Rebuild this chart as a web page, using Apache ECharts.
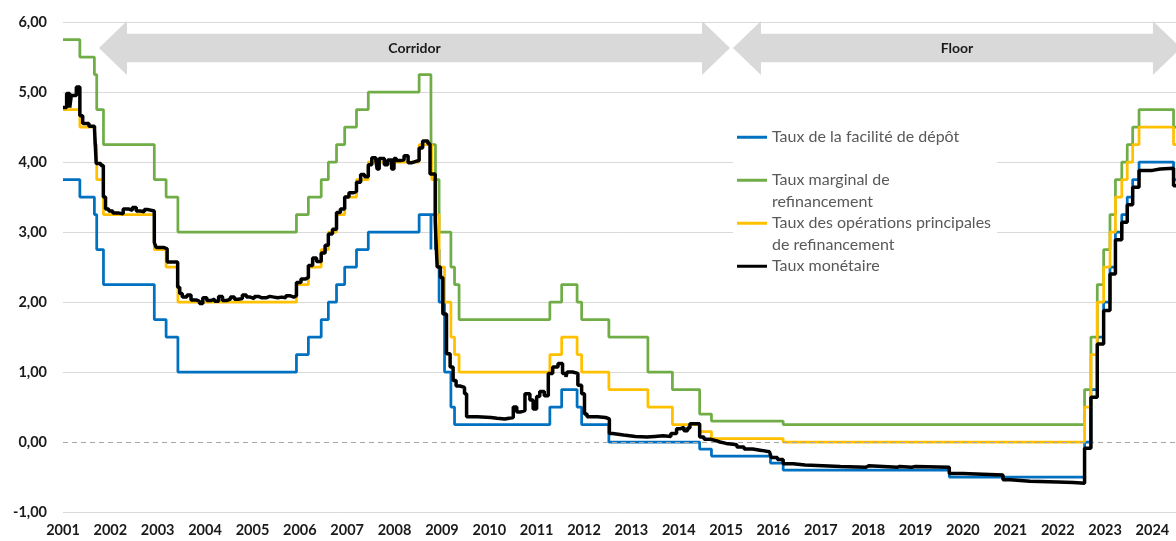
<!DOCTYPE html>
<html><head><meta charset="utf-8">
<script src="https://cdn.jsdelivr.net/npm/echarts@6/dist/echarts.min.js"></script>
<style>html,body{margin:0;padding:0;background:#fff}#c{width:1176px;height:541px}</style>
</head><body><div id="c"></div>
<script>
const seriesNames = ['Taux de la facilité de dépôt','Taux marginal de refinancement','Taux des opérations principales de refinancement','Taux monétaire'];
const legendLabels = ['\nTaux de la facilité de dépôt\n','\nTaux marginal de\nrefinancement','\nTaux des opérations principales\nde refinancement','\nTaux monétaire\n'];
const seriesColors = ['#0070C0','#70AD47','#FFC000','#000000'];

const depotDates = ['2001-01-01','2001-05-11','2001-08-31','2001-09-18','2001-11-09','2002-12-06','2003-03-07','2003-06-06','2005-12-06','2006-03-08','2006-06-15','2006-08-09','2006-10-11','2006-12-13','2007-03-14','2007-06-13','2008-07-09','2008-10-08','2008-10-09','2008-11-12','2008-12-10','2009-01-21','2009-03-11','2009-04-08','2011-04-13','2011-07-13','2011-11-09','2011-12-14','2012-07-11','2014-06-11','2014-09-10','2015-12-09','2016-03-16','2019-09-18','2022-07-27','2022-09-14','2022-11-02','2022-12-21','2023-02-08','2023-03-22','2023-05-10','2023-06-21','2023-08-02','2023-09-20','2024-06-12','2024-07-01'];
const depotValues = [3.75,3.50,3.25,2.75,2.25,1.75,1.50,1.00,1.25,1.50,1.75,2.00,2.25,2.50,2.75,3.00,3.25,2.75,3.25,2.75,2.00,1.00,0.50,0.25,0.50,0.75,0.50,0.25,0.00,-0.10,-0.20,-0.30,-0.40,-0.50,0.00,0.75,1.50,2.00,2.50,3.00,3.25,3.50,3.75,4.00,3.75,3.75];

const margDates = ['2001-01-01','2001-05-11','2001-08-31','2001-09-18','2001-11-09','2002-12-06','2003-03-07','2003-06-06','2005-12-06','2006-03-08','2006-06-15','2006-08-09','2006-10-11','2006-12-13','2007-03-14','2007-06-13','2008-07-09','2008-10-08','2008-10-09','2008-11-12','2008-12-10','2009-03-11','2009-04-08','2009-05-13','2011-04-13','2011-07-13','2011-11-09','2011-12-14','2012-07-11','2013-05-08','2013-11-13','2014-06-11','2014-09-10','2016-03-16','2022-07-27','2022-09-14','2022-11-02','2022-12-21','2023-02-08','2023-03-22','2023-05-10','2023-06-21','2023-08-02','2023-09-20','2024-06-12','2024-07-01'];
const margValues = [5.75,5.50,5.25,4.75,4.25,3.75,3.50,3.00,3.25,3.50,3.75,4.00,4.25,4.50,4.75,5.00,5.25,4.75,4.25,3.75,3.00,2.50,2.25,1.75,2.00,2.25,2.00,1.75,1.50,1.00,0.75,0.40,0.30,0.25,0.75,1.50,2.25,2.75,3.25,3.75,4.00,4.25,4.50,4.75,4.50,4.50];

const mroDates = ['2001-01-01','2001-05-11','2001-08-31','2001-09-18','2001-11-09','2002-12-06','2003-03-07','2003-06-06','2005-12-06','2006-03-08','2006-06-15','2006-08-09','2006-10-11','2006-12-13','2007-03-14','2007-06-13','2008-07-09','2008-10-15','2008-11-12','2008-12-10','2009-01-21','2009-03-11','2009-04-08','2009-05-13','2011-04-13','2011-07-13','2011-11-09','2011-12-14','2012-07-11','2013-05-08','2013-11-13','2014-06-11','2014-09-10','2016-03-16','2022-07-27','2022-09-14','2022-11-02','2022-12-21','2023-02-08','2023-03-22','2023-05-10','2023-06-21','2023-08-02','2023-09-20','2024-06-12','2024-07-01'];
const mroValues = [4.75,4.50,4.25,3.75,3.25,2.75,2.50,2.00,2.25,2.50,2.75,3.00,3.25,3.50,3.75,4.00,4.25,3.75,3.25,2.50,2.00,1.50,1.25,1.00,1.25,1.50,1.25,1.00,0.75,0.50,0.25,0.15,0.05,0.00,0.50,1.25,2.00,2.50,3.00,3.50,3.75,4.00,4.25,4.50,4.25,4.25];

const moneyDates = ['2001-01-01','2001-01-29','2001-02-22','2001-03-06','2001-04-14','2001-05-11','2001-06-02','2001-07-20','2001-09-01','2001-09-14','2001-10-20','2001-11-08','2001-11-25','2001-12-20','2002-01-20','2002-03-10','2002-04-10','2002-05-20','2002-06-20','2002-07-20','2002-08-20','2002-09-20','2002-10-20','2002-12-06','2002-12-20','2003-02-15','2003-03-15','2003-06-04','2003-06-20','2003-07-10','2003-08-15','2003-09-15','2003-10-25','2003-11-20','2003-12-15','2004-01-15','2004-02-15','2004-03-15','2004-04-15','2004-05-15','2004-06-15','2004-07-15','2004-08-15','2004-09-15','2004-10-15','2004-11-15','2004-12-15','2005-01-15','2005-02-15','2005-03-15','2005-04-15','2005-05-15','2005-06-15','2005-07-15','2005-08-15','2005-09-15','2005-10-15','2005-11-15','2005-12-06','2006-01-10','2006-02-15','2006-03-08','2006-04-10','2006-05-10','2006-06-15','2006-07-15','2006-08-09','2006-09-10','2006-10-11','2006-11-10','2006-12-13','2007-01-15','2007-02-15','2007-03-14','2007-04-15','2007-05-15','2007-06-13','2007-07-10','2007-08-10','2007-08-20','2007-09-05','2007-10-15','2007-11-10','2007-12-10','2007-12-28','2008-01-15','2008-02-15','2008-03-15','2008-04-15','2008-05-15','2008-06-15','2008-07-09','2008-08-05','2008-09-15','2008-10-01','2008-11-10','2008-11-25','2008-12-20','2009-01-08','2009-02-05','2009-03-05','2009-03-28','2009-04-20','2009-05-20','2009-06-24','2009-07-10','2009-10-01','2010-01-15','2010-03-01','2010-05-01','2010-07-05','2010-08-01','2010-09-01','2010-10-03','2010-11-10','2010-12-05','2011-01-01','2011-01-25','2011-03-01','2011-04-01','2011-05-05','2011-06-15','2011-07-20','2011-08-15','2011-08-25','2011-10-05','2011-11-15','2011-12-14','2012-01-05','2012-01-25','2012-04-15','2012-06-15','2012-07-15','2012-08-10','2012-11-01','2013-02-01','2013-05-01','2013-07-01','2013-09-01','2013-11-01','2013-12-15','2014-01-15','2014-02-10','2014-03-10','2014-03-28','2014-06-11','2014-07-15','2014-09-01','2014-10-15','2014-11-15','2015-01-01','2015-03-25','2015-05-20','2015-07-25','2015-10-01','2015-12-01','2015-12-15','2016-02-01','2016-03-16','2016-06-01','2016-09-01','2017-06-01','2017-12-15','2018-01-05','2018-08-15','2018-09-01','2018-12-01','2019-01-01','2019-09-18','2020-01-01','2020-06-01','2020-11-05','2021-01-01','2021-06-01','2022-01-01','2022-05-01','2022-07-27','2022-09-14','2022-11-02','2022-12-21','2023-02-08','2023-03-22','2023-05-10','2023-06-21','2023-08-02','2023-09-20','2024-01-01','2024-03-01','2024-06-12','2024-07-01'];
const moneyValues = [4.78,4.98,4.78,4.95,5.07,4.66,4.55,4.51,4.47,3.98,3.95,3.50,3.33,3.30,3.27,3.26,3.33,3.31,3.35,3.30,3.29,3.32,3.30,2.85,2.78,2.76,2.57,2.21,2.12,2.07,2.10,2.03,2.01,1.98,2.06,2.02,2.04,2.01,2.08,2.02,2.04,2.07,2.04,2.05,2.10,2.07,2.05,2.08,2.06,2.06,2.08,2.07,2.06,2.07,2.06,2.09,2.07,2.09,2.28,2.33,2.35,2.52,2.63,2.58,2.70,2.81,2.97,3.04,3.28,3.33,3.50,3.56,3.58,3.71,3.82,3.79,3.96,4.06,4.03,3.90,4.05,3.96,4.03,3.90,4.05,4.02,4.03,4.09,3.99,4.01,4.02,4.20,4.30,4.26,3.83,3.16,2.50,2.35,1.83,1.26,1.07,0.88,0.80,0.78,0.69,0.36,0.35,0.34,0.33,0.35,0.50,0.43,0.45,0.69,0.60,0.47,0.65,0.72,0.66,0.98,1.07,1.12,0.98,0.93,1.00,0.98,0.81,0.69,0.40,0.36,0.35,0.33,0.12,0.10,0.08,0.07,0.08,0.09,0.08,0.12,0.19,0.21,0.16,0.20,0.26,0.07,0.04,0.02,0.00,-0.02,-0.04,-0.07,-0.10,-0.12,-0.14,-0.15,-0.22,-0.25,-0.31,-0.33,-0.35,-0.36,-0.34,-0.36,-0.35,-0.36,-0.35,-0.36,-0.45,-0.46,-0.47,-0.54,-0.56,-0.57,-0.58,-0.59,-0.09,0.64,1.40,1.88,2.40,2.89,3.14,3.39,3.64,3.88,3.90,3.91,3.66,3.66];

const yTicks = [-1,0,1,2,3,4,5,6];
const regimeLabels = ['Corridor','Floor'];
const regimeStarts = ['2001-10-05','2015-02-23'];
const regimeEnds = ['2015-01-31','2024-08-08'];

const FONT = 'Lato, "DejaVu Sans", sans-serif';
function pairs(d, v){ return d.map((x,i)=>[x, v[i]]); }
const allDates = [depotDates, margDates, mroDates, moneyDates];
const allValues = [depotValues, margValues, mroValues, moneyValues];

const chart = echarts.init(document.getElementById('c'), null, {renderer:'canvas'});
const gridSplitColors = yTicks.map(v => v === 0 ? 'rgba(0,0,0,0)' : '#D9D9D9');

const series = seriesNames.map((name, i) => {
  const s = {
    name: name, type: 'line', step: 'end', showSymbol: false, symbol: 'none',
    data: pairs(allDates[i], allValues[i]),
    lineStyle: {color: seriesColors[i], width: i === 3 ? 3.5 : 2.75},
    itemStyle: {color: seriesColors[i]},
    z: 2 + i, animation: false
  };
  if (i === 0) {
    s.markLine = {silent: true, symbol: 'none', label: {show: false},
      lineStyle: {color: '#A6A6A6', type: [5, 4], width: 1},
      data: [{yAxis: 0}], animation: false};
  }
  return s;
});

chart.setOption({
  animation: false,
  grid: {left: 63, right: 0, top: 22, bottom: 29, containLabel: false},
  legend: {
    orient: 'vertical', left: 733, top: 105, itemWidth: 30, itemHeight: 3, icon: 'rect',
    itemGap: -21.5, padding: [0, 6, 0, 4], backgroundColor: '#ffffff', selectedMode: false,
    data: seriesNames,
    textStyle: {fontFamily: FONT, fontSize: 16, color: '#595959', lineHeight: 21.5},
    formatter: name => legendLabels[seriesNames.indexOf(name)]
  },
  xAxis: {
    type: 'time', min: '2001-01-01', max: '2024-07-01', splitNumber: 24,
    minInterval: 365 * 24 * 3600 * 1000,
    axisLine: {show: false}, axisTick: {show: false}, splitLine: {show: false},
    axisLabel: {formatter: '{yyyy}', fontFamily: FONT, fontWeight: 'bold', fontSize: 14.5, color: '#1a1a1a', margin: 11, hideOverlap: false}
  },
  yAxis: {
    type: 'value', min: -1, max: 6, interval: 1,
    axisLine: {show: false}, axisTick: {show: false},
    splitLine: {show: true, lineStyle: {color: gridSplitColors, width: 1}},
    axisLabel: {formatter: v => v.toFixed(2).replace('.', ','), fontFamily: FONT, fontWeight: 'bold', fontSize: 14.5, color: '#1a1a1a', margin: 16}
  },
  series: series
});

function drawArrows() {
  const yTop = chart.convertToPixel({yAxisIndex: 0}, 6);
  const yMid = yTop + 26;
  const h = 27, s = 14.3, hl = 28;
  const graphics = [];
  regimeLabels.forEach((lab, i) => {
    const x1 = chart.convertToPixel({xAxisIndex: 0}, regimeStarts[i]);
    const x2 = chart.convertToPixel({xAxisIndex: 0}, regimeEnds[i]);
    graphics.push({
      type: 'polygon', z: 1, silent: true,
      shape: {points: [[x1, yMid], [x1 + hl, yMid - h], [x1 + hl, yMid - s], [x2 - hl, yMid - s], [x2 - hl, yMid - h], [x2, yMid], [x2 - hl, yMid + h], [x2 - hl, yMid + s], [x1 + hl, yMid + s], [x1 + hl, yMid + h]]},
      style: {fill: '#D9D9D9'}
    });
    graphics.push({
      type: 'text', z: 2, silent: true,
      style: {text: lab, x: (x1 + x2) / 2, y: yMid, align: 'center', verticalAlign: 'middle',
        font: 'bold 14px ' + FONT, fill: '#1a1a1a'}
    });
  });
  chart.setOption({graphic: graphics});
}
drawArrows();
</script></body></html>
